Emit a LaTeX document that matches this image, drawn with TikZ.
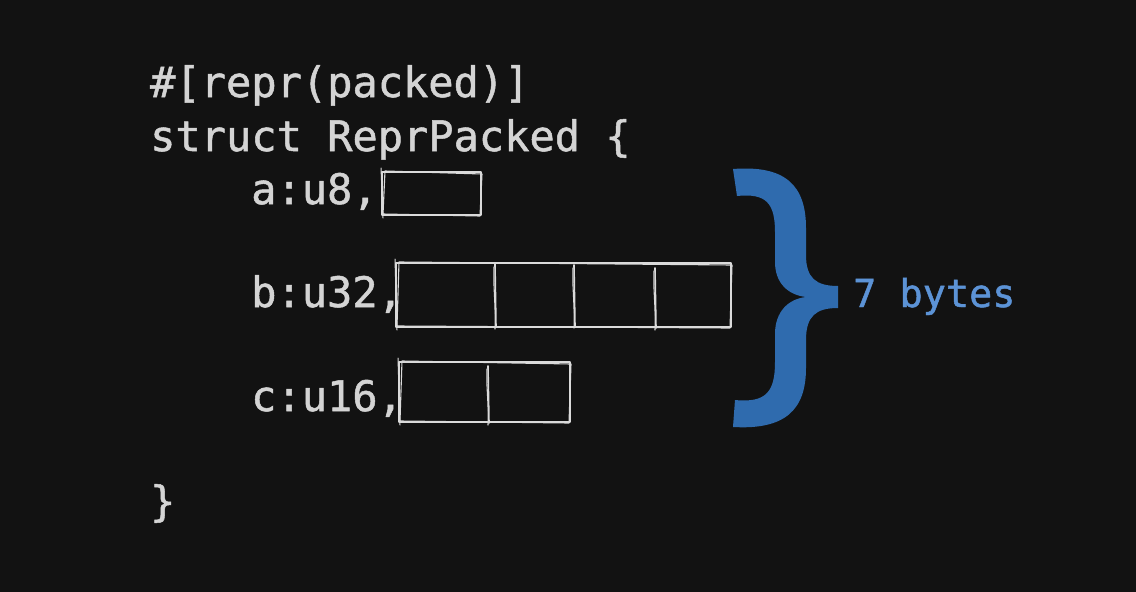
\documentclass[tikz,border=0pt]{standalone}
\usepackage{fontspec}
\newfontfamily\codefont[FakeBold=1.2]{DejaVu Sans Mono}
\definecolor{bg}{HTML}{121212}
\definecolor{codegray}{HTML}{D4D4D4}
\definecolor{cellgray}{HTML}{DADADA}
\definecolor{braceblue}{HTML}{2F6BAE}
\definecolor{labelblue}{HTML}{5C93D6}
\tikzset{
  code/.style={anchor=base west, inner sep=0pt, text=codegray,
    font=\codefont\fontsize{42}{50}\selectfont},
  bytes/.style={anchor=base west, inner sep=0pt, text=labelblue,
    font=\codefont\fontsize{38.5}{46}\selectfont},
  cell/.style={draw=cellgray, line width=1.6pt, line cap=round, line join=round},
}
% rough hand-drawn box: x1, y1, x2, y2
\newcommand{\sketchbox}[4]{%
  \draw[cell] (#1,#2) rectangle (#3,#4);
  \draw[cell, line width=1.1pt] (#1+3,#2-1) -- (#3+1,#2+2) -- (#3-1,#4+1) -- (#1+1,#4-1) -- cycle;
  \draw[cell, line width=1pt] (#1-1,#2-4) -- (#1+1,#4+3);
}
\newcommand{\sketchdiv}[3]{%
  \draw[cell] (#1,#2) -- (#1+1,#3);
  \draw[cell, line width=1.1pt] (#1-1,#2+3) .. controls (#1-2,#2+20) and (#1+1,#3-20) .. (#1,#3+2);
}
\begin{document}
\begin{tikzpicture}[x=1pt,y=-1pt]
\useasboundingbox[fill=bg] (0,0) rectangle (1136,592);
\node[code] (attr) at (150,97) {\#[repr(packed)]};
\node[code] (head) at (150,151) {struct ReprPacked \{};
\node[code] (fa) at (251,204) {a:u8,};
\node[code] (fb) at (251,307) {b:u32,};
\node[code] (fc) at (251,411) {c:u16,};
\node[code] (tail) at (150,516) {\}};
\sketchbox{382}{172}{481}{215}
\sketchbox{396}{263}{731}{327}
\sketchdiv{495}{264}{327}
\sketchdiv{574}{265}{326}
\sketchdiv{655}{268}{328}
\sketchbox{399}{362}{570}{422}
\sketchdiv{488}{366}{423}
\fill[braceblue] (733,169) .. controls (785,165) and (806,185) .. (806,228)
  -- (806,255) .. controls (806,278) and (816,286) .. (838,286)
  -- (838,308) .. controls (816,308) and (806,316) .. (806,340)
  -- (806,368) .. controls (806,410) and (785,430) .. (733,427)
  -- (735,400) .. controls (766,403) and (775,392) .. (775,362)
  -- (775,334) .. controls (775,312) and (788,299) .. (806,297)
  .. controls (788,295) and (775,283) .. (775,262)
  -- (775,232) .. controls (775,203) and (766,193) .. (737,196) -- cycle;
\node[bytes] (size) at (853,307) {7 bytes};
\end{tikzpicture}
\end{document}
